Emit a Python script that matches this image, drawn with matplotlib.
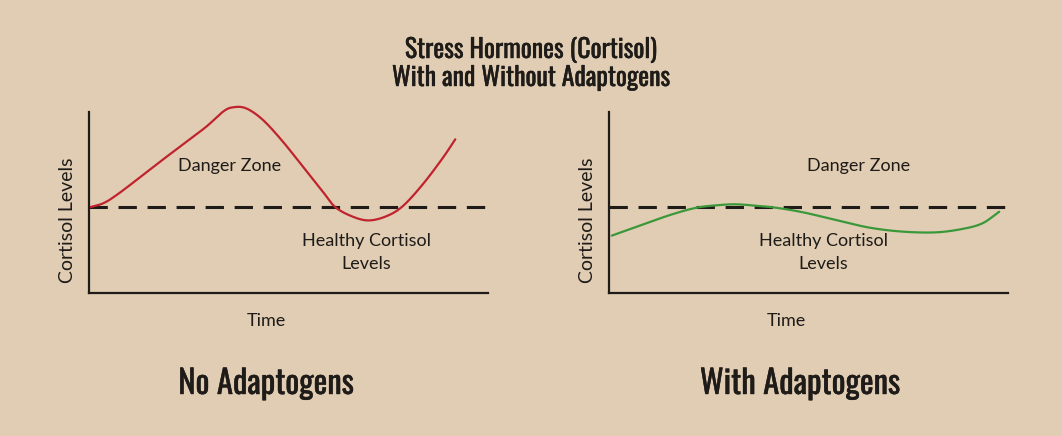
import numpy as np
import matplotlib
matplotlib.use("Agg")
import matplotlib.pyplot as plt
import matplotlib.patheffects as pe

# values (time 0-10, cortisol 0-10)
healthy_level = 4.75

no_adapt_time = [0.01, 0.36, 0.69, 1.19, 1.78, 2.36, 2.94, 3.36, 3.61, 3.94, 4.36, 4.86,
                 5.36, 5.86, 6.15, 6.53, 6.98, 7.44, 7.86, 8.36, 8.86, 9.18]
no_adapt_level = [4.73, 4.96, 5.41, 6.24, 7.25, 8.22, 9.19, 10.02, 10.26, 10.2, 9.56, 8.36,
                  6.98, 5.6, 4.79, 4.29, 4.01, 4.23, 4.79, 5.99, 7.44, 8.49]

with_adapt_time = [0.07, 0.69, 1.53, 2.19, 2.78, 3.19, 3.69, 4.19, 4.86, 5.69, 6.53, 7.36,
                   8.19, 8.86, 9.36, 9.78]
with_adapt_level = [3.17, 3.66, 4.31, 4.71, 4.86, 4.9, 4.82, 4.71, 4.46, 4.03, 3.61, 3.39,
                    3.35, 3.54, 3.85, 4.49]

bg = "#e0cdb3"
ink = "#1e1b18"
title_font = ["Oswald", "DejaVu Sans"]
label_font = ["Lato", "DejaVu Sans"]
# Oswald here is the light default instance, so thicken it a little
heavy = [pe.withStroke(linewidth=0.3, foreground=ink)]


def smooth(x, y):
    # Catmull-Rom through the read points
    x = np.asarray(x, float)
    y = np.asarray(y, float)
    px = np.concatenate([[2 * x[0] - x[1]], x, [2 * x[-1] - x[-2]]])
    py = np.concatenate([[2 * y[0] - y[1]], y, [2 * y[-1] - y[-2]]])
    xs, ys = [], []
    t = np.linspace(0, 1, 20, endpoint=False)
    for i in range(1, len(px) - 2):
        for arr, out in ((px, xs), (py, ys)):
            p0, p1, p2, p3 = arr[i - 1], arr[i], arr[i + 1], arr[i + 2]
            out.extend(0.5 * (2 * p1 + (-p0 + p2) * t + (2 * p0 - 5 * p1 + 4 * p2 - p3) * t ** 2
                              + (-p0 + 3 * p1 - 3 * p2 + p3) * t ** 3))
    xs.append(x[-1])
    ys.append(y[-1])
    return xs, ys


fig = plt.figure(figsize=(10.62, 4.36), dpi=100, facecolor=bg)

fig.text(0.5, 1 - 50 / 436, "Stress Hormones (Cortisol)", ha="center", va="center",
         fontsize=18.6, family=title_font, color=ink, path_effects=heavy)
fig.text(0.5, 1 - 78 / 436, "With and Without Adaptogens", ha="center", va="center",
         fontsize=18.6, family=title_font, color=ink, path_effects=heavy)

panels = [
    (89, no_adapt_time, no_adapt_level, "#c0232e", "No Adaptogens", 266, (3.53, 7.0), (6.95, 2.25)),
    (609, with_adapt_time, with_adapt_level, "#3b983a", "With Adaptogens", 800, (6.25, 7.0), (5.38, 2.25)),
]

for left_px, t, lv, col, name, name_x, danger_pos, healthy_pos in panels:
    ax = fig.add_axes([left_px / 1062, 1 - 293 / 436, 399 / 1062, 181 / 436])
    ax.set_facecolor(bg)
    ax.set_xlim(0, 10)
    ax.set_ylim(0, 10)
    for s in ["top", "right"]:
        ax.spines[s].set_visible(False)
    for s in ["left", "bottom"]:
        ax.spines[s].set_color(ink)
        ax.spines[s].set_linewidth(1.6)
    ax.set_xticks([])
    ax.set_yticks([])

    ax.axhline(healthy_level, color=ink, lw=2.2, dashes=(6, 3.5))
    xs, ys = smooth(t, lv)
    ax.plot(xs, ys, color=col, lw=1.6, clip_on=False, solid_capstyle="round")

    ax.text(*danger_pos, "Danger Zone", ha="center", va="center", fontsize=13,
            family=label_font, color=ink)
    ax.text(*healthy_pos, "Healthy Cortisol\nLevels", ha="center", va="center", fontsize=13,
            family=label_font, color=ink, linespacing=1.5)
    ax.text(4.45, -28 / 18.1, "Time", ha="center", va="center", fontsize=13,
            family=label_font, color=ink)
    ax.set_ylabel("Cortisol Levels", fontsize=14, family=label_font, color=ink)
    ax.yaxis.set_label_coords(-13 / 399, 0.40)

    fig.text(name_x / 1062, 1 - 384 / 436, name, ha="center", va="center",
             fontsize=23.5, family=title_font, color=ink, path_effects=heavy)

fig.savefig("out.png", dpi=100, facecolor=bg)
